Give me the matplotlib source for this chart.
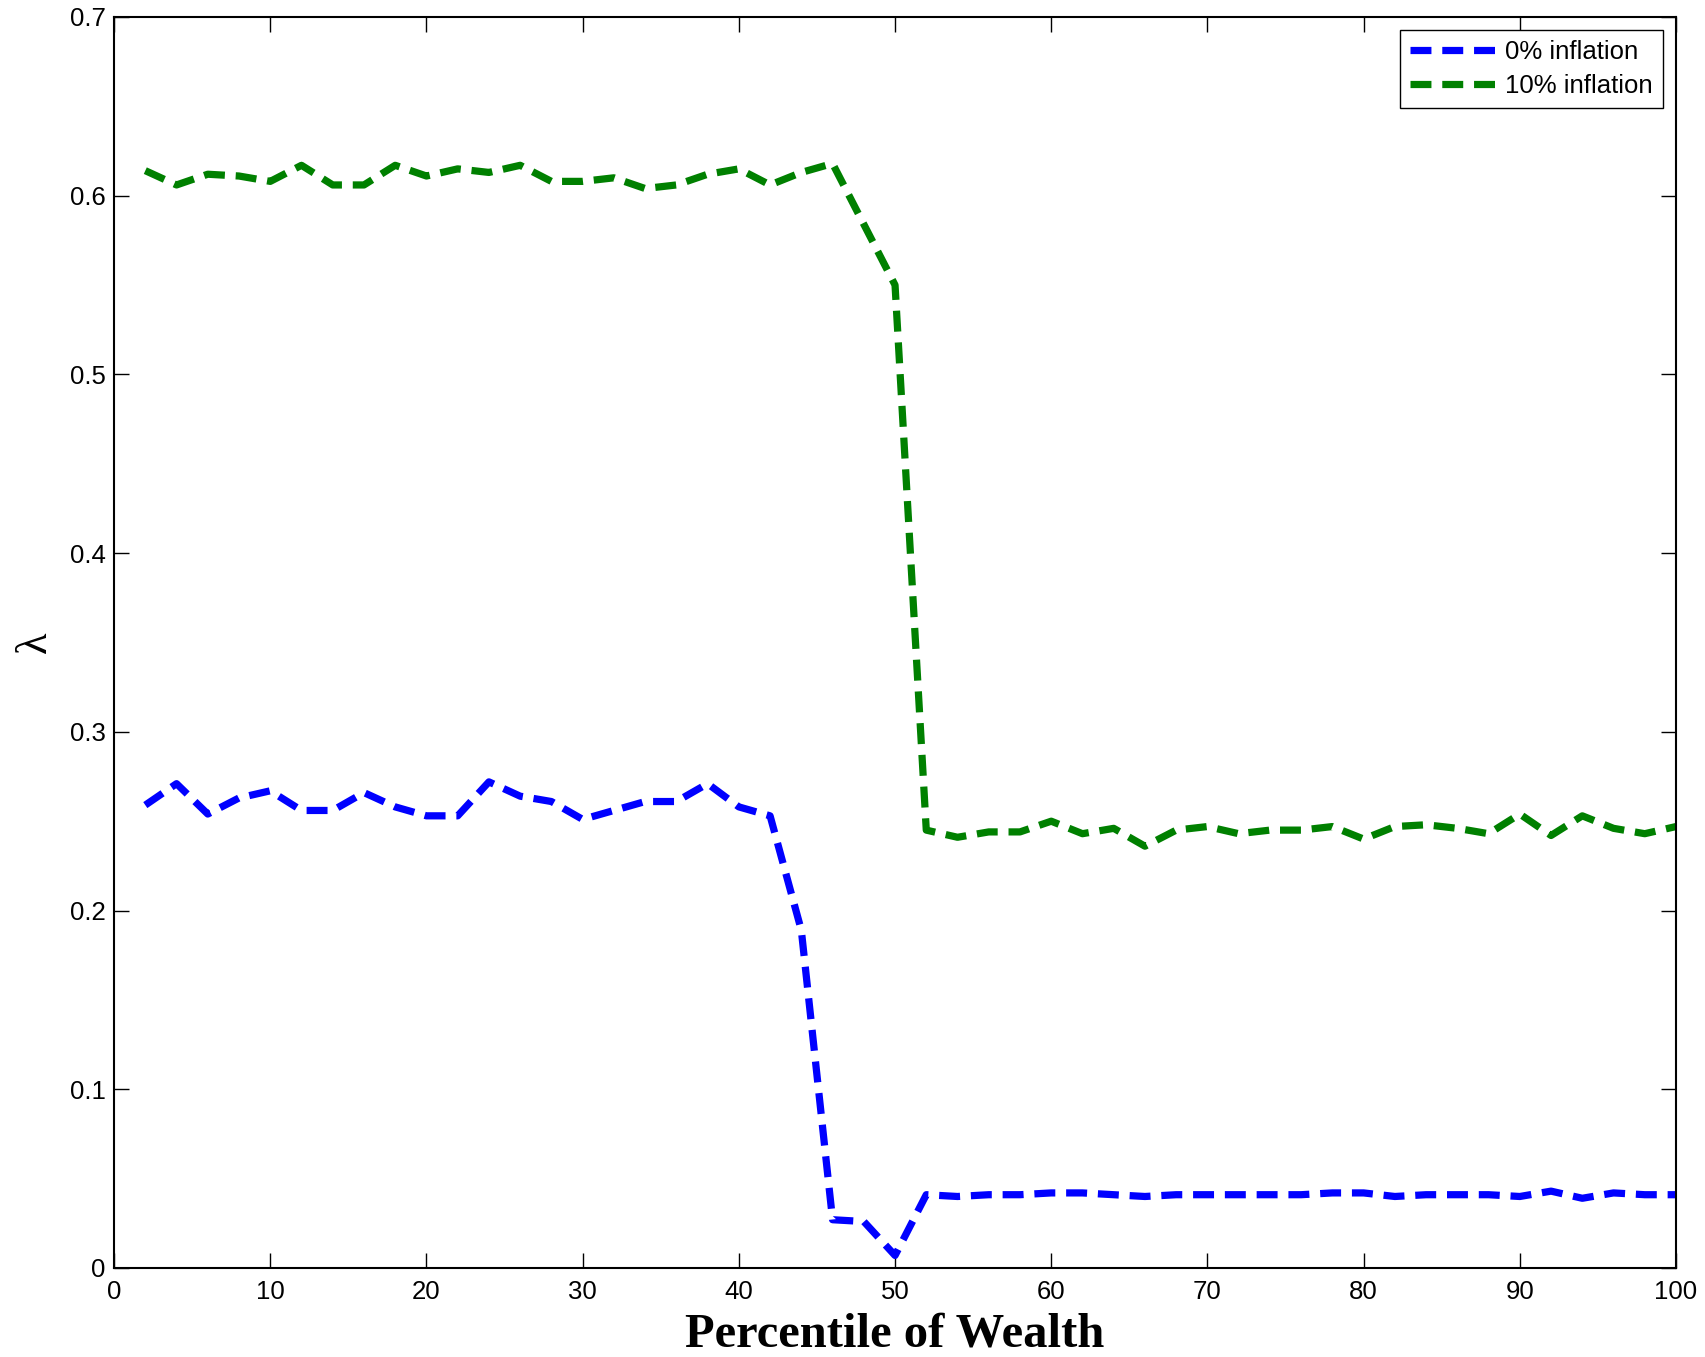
import matplotlib
matplotlib.use("Agg")
import matplotlib.pyplot as plt
import numpy as np

percentile = list(range(2, 101, 2))

lam_0 = [0.259, 0.271, 0.254, 0.263, 0.267, 0.256, 0.256, 0.266, 0.258, 0.253,
         0.253, 0.272, 0.264, 0.261, 0.251, 0.256, 0.261, 0.261, 0.271, 0.258,
         0.253, 0.189, 0.027, 0.026, 0.007, 0.041, 0.040, 0.041, 0.041, 0.042,
         0.042, 0.041, 0.040, 0.041, 0.041, 0.041, 0.041, 0.041, 0.042, 0.042,
         0.040, 0.041, 0.041, 0.041, 0.040, 0.043, 0.039, 0.042, 0.041, 0.041]

lam_10 = [0.614, 0.606, 0.612, 0.611, 0.608, 0.617, 0.606, 0.606, 0.617, 0.611,
          0.615, 0.613, 0.617, 0.608, 0.608, 0.610, 0.604, 0.606, 0.612, 0.615,
          0.606, 0.613, 0.618, 0.584, 0.550, 0.245, 0.241, 0.244, 0.244, 0.250,
          0.243, 0.246, 0.236, 0.245, 0.247, 0.243, 0.245, 0.245, 0.247, 0.240,
          0.247, 0.248, 0.246, 0.243, 0.254, 0.242, 0.253, 0.246, 0.243, 0.247]

labels = ["0% inflation", "10% inflation"]
xticks = list(range(0, 101, 10))
yticks = [0, 0.1, 0.2, 0.3, 0.4, 0.5, 0.6, 0.7]
ytick_labels = ["0", "0.1", "0.2", "0.3", "0.4", "0.5", "0.6", "0.7"]

plt.rcParams['font.family'] = ['Liberation Sans', 'DejaVu Sans']

fig = plt.figure(figsize=(17.05, 13.57), dpi=100)
ax = fig.add_axes([0.0669, 0.0656, 0.9161, 0.9219])

dash = (0, (2.9, 1.5))
ax.plot(percentile, lam_0, color=(0, 0, 1), lw=5.2, linestyle=dash, label=labels[0])
ax.plot(percentile, lam_10, color=(0, 0.5, 0), lw=5.2, linestyle=dash, label=labels[1])

ax.set_xlim(0, 100)
ax.set_ylim(0, 0.7)
ax.set_xticks(xticks)
ax.set_yticks(yticks)
ax.set_yticklabels(ytick_labels)
ax.tick_params(direction='in', length=11, width=1, top=True, right=True,
               labelsize=18.5)
ax.tick_params(axis='x', pad=9)
ax.tick_params(axis='y', pad=6)
for s in ax.spines.values():
    s.set_linewidth(1.5)

ax.set_xlabel("Percentile of Wealth", fontsize=35, fontweight='bold',
              family=['Liberation Serif', 'DejaVu Serif'], labelpad=6)
ax.set_ylabel("λ", fontsize=32, family=['Liberation Serif', 'DejaVu Serif'], labelpad=11)

leg = ax.legend(loc='upper right', fontsize=18.5, fancybox=False, framealpha=1,
                edgecolor='black', borderaxespad=0.5, handlelength=3.3,
                borderpad=0.4, labelspacing=0.38, handletextpad=0.4)
leg.get_frame().set_linewidth(1.0)

fig.savefig("out.png", dpi=100)
